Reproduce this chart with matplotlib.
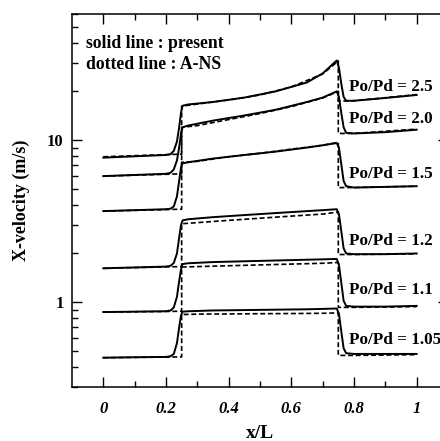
import numpy as np
import matplotlib
matplotlib.use('Agg')
import matplotlib.pyplot as plt
from matplotlib.ticker import FixedLocator, LogLocator, NullFormatter

plt.rcParams['font.family'] = ['Liberation Serif', 'DejaVu Serif']
plt.rcParams['font.weight'] = 'bold'

# present method (solid lines)
x_solid = [0, 0.1, 0.2, 0.215, 0.225, 0.235, 0.242, 0.248, 0.253, 0.27, 0.35,
           0.45, 0.55, 0.65, 0.7, 0.745, 0.752, 0.76, 0.767, 0.775, 0.8, 0.9, 1.0]
u25 = [7.8, 7.95, 8.1, 8.2, 8.6, 9.8, 12.0, 14.8, 16.3, 16.6, 17.2,
       18.3, 20.0, 22.7, 25.8, 31.0, 28.0, 22.0, 18.5, 17.5, 17.5, 18.2, 19.0]
u20 = [6.0, 6.1, 6.2, 6.3, 6.6, 7.5, 9.0, 11.0, 12.0, 12.3, 13.2,
       14.2, 15.4, 17.2, 18.3, 20.0, 18.5, 14.5, 12.0, 11.1, 11.0, 11.2, 11.6]
u15 = [3.65, 3.7, 3.75, 3.78, 3.9, 4.5, 5.6, 6.8, 7.2, 7.3, 7.7,
       8.1, 8.5, 9.0, 9.3, 9.6, 9.0, 7.0, 5.6, 5.2, 5.1, 5.15, 5.2]
u12 = [1.62, 1.64, 1.66, 1.68, 1.75, 2.0, 2.5, 3.0, 3.2, 3.25, 3.35,
       3.45, 3.55, 3.65, 3.7, 3.75, 3.5, 2.7, 2.15, 2.0, 1.98, 1.98, 2.0]
u11 = [0.87, 0.875, 0.88, 0.89, 0.93, 1.08, 1.35, 1.6, 1.72, 1.74, 1.77,
       1.79, 1.81, 1.83, 1.84, 1.85, 1.7, 1.3, 1.02, 0.95, 0.94, 0.94, 0.95]
u105 = [0.455, 0.458, 0.46, 0.465, 0.48, 0.56, 0.7, 0.83, 0.875, 0.88, 0.89,
        0.895, 0.9, 0.905, 0.91, 0.915, 0.85, 0.65, 0.52, 0.485, 0.48, 0.48, 0.48]

# A-NS (dotted lines)
x_dot = [0, 0.25, 0.25, 0.3, 0.4, 0.5, 0.6, 0.7, 0.75, 0.75, 0.8, 1.0]
a25 = [7.9, 8.2, 16.2, 16.7, 17.7, 19.0, 21.3, 25.6, 30.8, 17.4, 17.5, 19.1]
a20 = [6.0, 6.2, 12.0, 12.3, 13.4, 14.6, 16.1, 18.2, 20.0, 11.0, 11.0, 11.7]
a15 = [3.65, 3.75, 7.3, 7.4, 7.9, 8.3, 8.8, 9.3, 9.7, 5.1, 5.1, 5.2]
a12 = [1.62, 1.66, 3.05, 3.1, 3.2, 3.3, 3.4, 3.5, 3.6, 1.97, 1.97, 1.99]
a11 = [0.87, 0.88, 1.65, 1.66, 1.68, 1.7, 1.72, 1.74, 1.76, 0.93, 0.93, 0.94]
a105 = [0.455, 0.46, 0.84, 0.845, 0.847, 0.85, 0.852, 0.855, 0.86, 0.47, 0.47, 0.475]

labels = ['Po/Pd = 2.5', 'Po/Pd = 2.0', 'Po/Pd = 1.5',
          'Po/Pd = 1.2', 'Po/Pd = 1.1', 'Po/Pd = 1.05']
solid = [u25, u20, u15, u12, u11, u105]
dotted = [a25, a20, a15, a12, a11, a105]

fig = plt.figure(figsize=(4.4, 4.41), dpi=100)
ax = fig.add_axes([0.1636, 0.1224, 0.8545, 0.8458])

for ys, yd in zip(solid, dotted):
    ax.plot(x_dot, yd, color='black', lw=1.2, dashes=(3, 1.6))
    ax.plot(x_solid, ys, color='black', lw=1.4)

label_y = [21.4, 13.5, 6.22, 2.39, 1.19, 0.585]
for lab, yl in zip(labels, label_y):
    ax.text(0.784, yl, lab, fontsize=12.3, fontweight='bold', va='center', ha='left')

ax.text(0.037, 0.92, 'solid line : present', transform=ax.transAxes,
        fontsize=12.7, fontweight='bold', va='center')
ax.text(0.037, 0.866, 'dotted line : A-NS', transform=ax.transAxes,
        fontsize=12.7, fontweight='bold', va='center')

ax.set_yscale('log')
ax.set_xlim(-0.1, 1.1)
ax.set_ylim(0.3, 60)

ax.xaxis.set_major_locator(FixedLocator([0, 0.2, 0.4, 0.6, 0.8, 1.0]))
ax.xaxis.set_minor_locator(FixedLocator([0.1, 0.3, 0.5, 0.7, 0.9]))
ax.set_xticklabels(['0', '0.2', '0.4', '0.6', '0.8', '1'],
                   fontsize=12, fontweight='bold', fontstyle='italic')

ax.yaxis.set_major_locator(FixedLocator([1, 10]))
ax.yaxis.set_minor_locator(LogLocator(base=10, subs=np.arange(2, 10)))
ax.yaxis.set_minor_formatter(NullFormatter())
ax.set_yticklabels(['1', '10'], fontsize=12, fontweight='bold')

ax.tick_params(which='both', direction='in', top=True, right=True, width=1.0)
ax.tick_params(which='major', length=7)
ax.tick_params(which='minor', length=4)
ax.tick_params(axis='x', which='major', pad=10)
ax.tick_params(axis='y', which='major', pad=6)

for sp in ax.spines.values():
    sp.set_linewidth(1.1)

ax.set_xlabel('x/L', fontsize=14, fontweight='bold', labelpad=6)
ax.set_ylabel('X-velocity (m/s)', fontsize=13, fontweight='bold', labelpad=12)

fig.savefig('out.png', dpi=100)
